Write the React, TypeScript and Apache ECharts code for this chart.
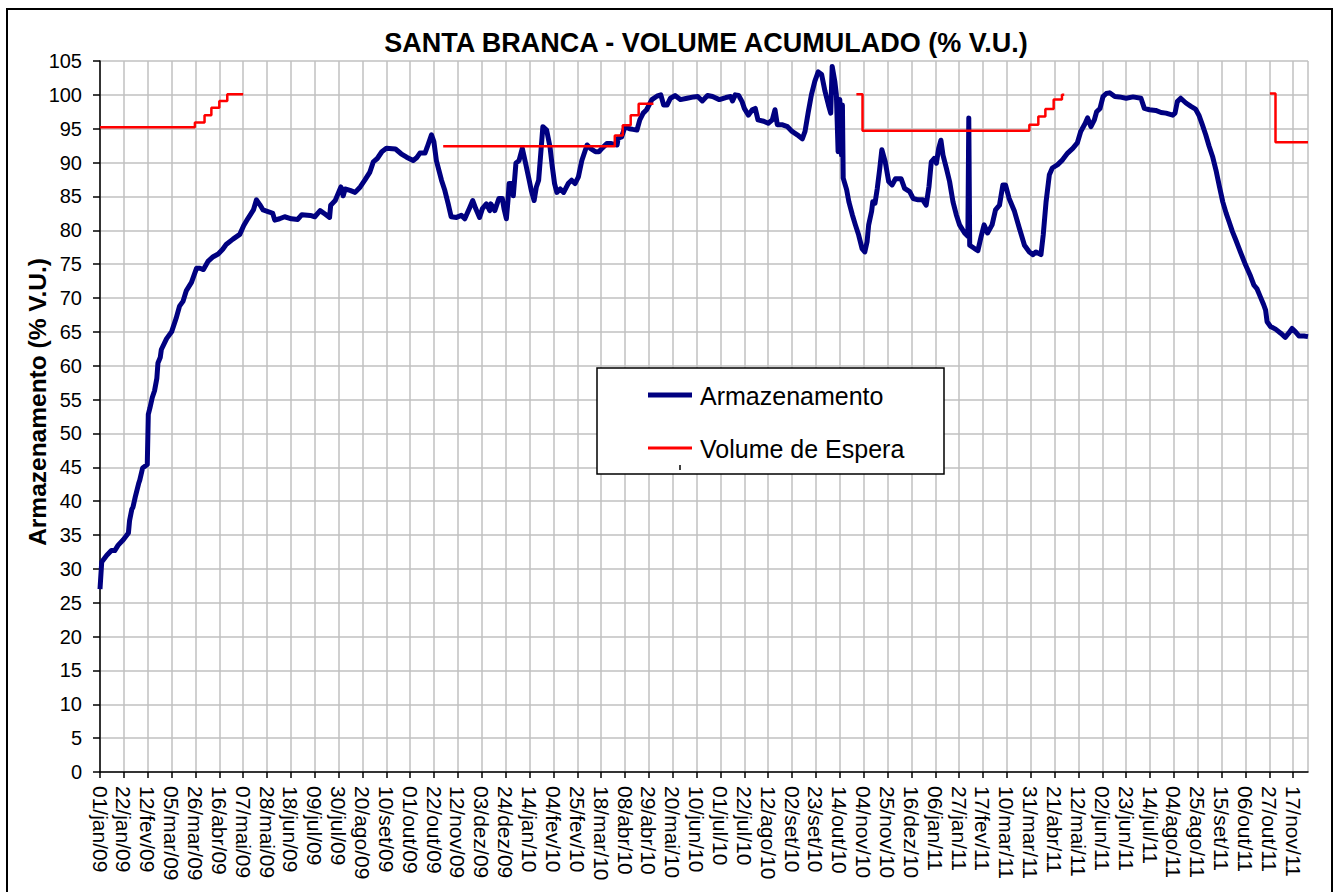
import React, { useEffect, useRef } from "react";
import * as echarts from "echarts";

// x values are days since 01/jan/09
const xTickLabels = [
  "01/jan/09", "22/jan/09", "12/fev/09", "05/mar/09", "26/mar/09", "16/abr/09", "07/mai/09", "28/mai/09",
  "18/jun/09", "09/jul/09", "30/jul/09", "20/ago/09", "10/set/09", "01/out/09", "22/out/09", "12/nov/09",
  "03/dez/09", "24/dez/09", "14/jan/10", "04/fev/10", "25/fev/10", "18/mar/10", "08/abr/10", "29/abr/10",
  "20/mai/10", "10/jun/10", "01/jul/10", "22/jul/10", "12/ago/10", "02/set/10", "23/set/10", "14/out/10",
  "04/nov/10", "25/nov/10", "16/dez/10", "06/jan/11", "27/jan/11", "17/fev/11", "10/mar/11", "31/mar/11",
  "21/abr/11", "12/mai/11", "02/jun/11", "23/jun/11", "14/jul/11", "04/ago/11", "25/ago/11", "15/set/11",
  "06/out/11", "27/out/11", "17/nov/11",
];
const yTicks = [0, 105, 5]; // min, max, step

const armDay = [
  0, 1.5, 6, 10, 13, 16, 20.5, 25, 26, 28, 29, 31, 34, 35, 37.5, 41.6, 42.5, 44, 46, 48, 50, 51, 53, 54, 58.6, 63,
  67, 70, 73, 76, 80.5, 85, 88, 91, 95, 99.6, 104, 108, 111, 117, 123, 126.5, 130, 135, 137.7, 140.6, 143.5, 149,
  152, 153.8, 158, 162.5, 168.4, 174, 177.6, 185, 189, 193.7, 198, 202, 203, 207, 210.7, 212, 214, 215.7, 220,
  224.5, 229, 233, 237.5, 240.5, 244, 248, 252, 260, 265, 269.8, 275.6, 278.6, 281.5, 286, 288, 291.7, 293.8, 296,
  300.5, 303.4, 306.4, 309, 313.7, 318, 321, 325.5, 328, 330.6, 334, 336.5, 340, 343, 344, 347.4, 351, 354, 355.5,
  357.6, 359, 360, 363, 363.7, 366, 368.7, 371.6, 374.5, 377.4, 379.5, 382, 384, 386, 387.6, 389.7, 393, 396, 398,
  400, 402, 405, 408, 412, 415, 418, 421, 424, 428.6, 431.5, 436, 439, 441.7, 446, 450, 455, 456, 459, 462, 466,
  469, 472.5, 475, 478, 481, 485.6, 490, 493.5, 496, 499, 502, 506, 510.7, 516.6, 522.5, 526, 530, 534.6, 539, 545,
  550.7, 555, 556.6, 559, 562, 565, 567, 570.6, 574, 576.6, 579, 584, 588, 591.6, 594, 596, 600, 605, 609, 613.6,
  618, 620.4, 623.3, 626, 629, 632, 635, 638, 641, 643, 644.3, 646.6, 648, 649.5, 651, 652.5, 653.3, 654, 657, 659,
  662, 664.7, 667.6, 670.6, 673, 675, 676.4, 679, 680, 682, 684, 686, 688, 691, 694, 697, 700, 705, 708, 712.5,
  715.5, 720, 724, 727, 729.5, 731.5, 734, 736, 738, 740, 741.8, 744.7, 747.6, 750.6, 753.5, 756.4, 760.8, 763.7,
  764.5, 765.3, 769.6, 772.5, 775.4, 778, 781, 785, 788, 791.5, 794.5, 796.8, 800, 804.7, 809, 813.5, 817.8, 821,
  823.6, 828, 830, 832.5, 835.4, 838, 842.7, 847, 851.5, 856, 860, 863, 867, 869, 872, 875, 877, 880, 882.6, 885.5,
  888.4, 893, 897, 903, 909, 916, 919, 923.5, 929, 933.7, 938, 944, 946, 948, 951, 955.6, 960, 964, 967, 970, 973,
  976, 979, 982, 985, 988, 991, 993.5, 996.5, 999.4, 1004, 1008, 1012.5, 1015.4, 1018, 1021, 1024, 1025.7, 1027,
  1030, 1034.4, 1039, 1043, 1046, 1049, 1052, 1055, 1059.4, 1063,
];
const armVal = [
  27.0, 31.0, 32.0, 32.7, 32.7, 33.5, 34.3, 35.3, 37.1, 38.8, 39.1, 40.6, 42.6, 43.1, 44.9, 45.4, 52.8, 53.8, 55.3,
  56.3, 58.1, 60.4, 61.2, 62.4, 64.0, 65.0, 67.0, 68.8, 69.5, 71.1, 72.3, 74.4, 74.4, 74.2, 75.4, 76.1, 76.5, 77.2,
  77.9, 78.7, 79.4, 80.7, 81.7, 83.0, 84.5, 83.8, 83.0, 82.7, 82.5, 81.5, 81.7, 82.0, 81.7, 81.6, 82.3, 82.2, 82.0,
  82.9, 82.4, 81.9, 83.7, 84.4, 85.9, 86.4, 85.1, 86.1, 85.9, 85.6, 86.4, 87.4, 88.6, 90.1, 90.6, 91.6, 92.1, 92.0,
  91.3, 90.8, 90.3, 90.7, 91.4, 91.4, 92.3, 94.1, 93.1, 90.3, 87.4, 85.9, 83.9, 82.0, 81.9, 82.2, 81.7, 83.4, 84.4,
  83.2, 81.9, 83.2, 83.9, 82.9, 83.9, 82.9, 84.7, 84.7, 83.2, 81.7, 84.4, 86.9, 86.9, 85.1, 89.9, 90.3, 92.1, 89.9,
  87.6, 85.9, 84.4, 86.4, 87.4, 90.8, 95.3, 94.8, 92.3, 89.4, 86.9, 85.6, 86.1, 85.6, 86.9, 87.4, 86.9, 87.9, 90.3,
  92.6, 92.1, 91.6, 91.6, 92.1, 92.8, 92.8, 92.6, 93.6, 93.8, 95.3, 95.0, 94.9, 94.8, 96.3, 97.3, 97.8, 99.3, 99.8,
  100.0, 98.5, 98.5, 99.5, 99.9, 99.3, 99.5, 99.7, 99.75, 99.1, 99.9, 99.75, 99.3, 99.6, 99.75, 99.1, 100.0, 99.9,
  99.0, 98.0, 97.0, 97.8, 98.0, 96.3, 96.1, 95.8, 96.3, 97.8, 95.6, 95.6, 95.3, 94.6, 94.1, 93.5, 94.6, 97.5, 100.0,
  102.0, 103.4, 103.0, 100.5, 98.5, 97.3, 104.2, 102.0, 100.0, 91.6, 99.3, 91.1, 98.5, 87.7, 86.0, 84.2, 82.3, 80.8,
  79.3, 77.3, 76.8, 78.3, 80.8, 82.8, 84.2, 84.0, 86.2, 88.9, 91.9, 90.1, 87.2, 86.7, 87.6, 87.6, 86.2, 85.7, 84.7,
  84.5, 84.5, 83.7, 86.5, 90.1, 90.6, 89.9, 92.1, 93.3, 91.1, 89.2, 87.2, 84.2, 82.3, 80.8, 79.6, 79.1, 96.6, 77.8,
  77.3, 77.0, 79.1, 80.8, 79.6, 80.8, 83.0, 83.7, 86.7, 86.7, 84.7, 82.8, 80.3, 77.8, 76.8, 76.4, 76.8, 76.4, 79.3,
  84.2, 88.2, 89.2, 89.7, 90.4, 91.4, 92.1, 92.9, 94.6, 95.8, 96.6, 95.3, 96.3, 97.5, 98.0, 99.75, 100.2, 100.3,
  99.75, 99.7, 99.5, 99.7, 99.5, 98.0, 97.8, 97.7, 97.4, 97.3, 97.0, 97.3, 99.0, 99.5, 98.8, 98.3, 97.9, 97.0, 95.6,
  94.1, 92.4, 90.9, 88.9, 86.5, 84.2, 82.5, 81.3, 79.8, 78.6, 76.6, 74.9, 73.2, 71.9, 71.4, 70.2, 69.0, 68.2, 66.5,
  65.8, 65.4, 64.8, 64.2, 64.8, 65.5, 65.0, 64.4, 64.4, 64.3,
];

// Volume de Espera: level holds from each day until the next day; null = gap
const espDay = [
  0, 83.5, 92, 98, 105, 112, 126, 126,
  302, 453, 460, 467, 474, 487, 487,
  665.6, 671, 817.8, 825.7, 831.9, 839.2, 846.5, 848.5, 848.5,
  1029.5, 1034.4, 1063,
];
const espVal: (number | null)[] = [
  95.2, 95.9, 97.0, 98.1, 99.1, 100.1, 100.1, null,
  92.4, 94.0, 95.5, 97.0, 98.7, 98.7, null,
  100.1, 94.7, 95.6, 96.8, 97.9, 99.3, 100.0, 100.0, null,
  100.2, 93.0, 93.0,
];

const seriesNames = ["Armazenamento", "Volume de Espera"];
const seriesColors = ["#000080", "#ff0000"];

const FONT = '"Liberation Sans", Arial, sans-serif';

export default function App() {
  const ref = useRef<HTMLDivElement>(null);

  useEffect(() => {
    if (!ref.current) return;
    const chart = echarts.init(ref.current, undefined, { renderer: "svg" });

    const armData = armDay.map((d, i) => [d, armVal[i]]);
    const espData: (number | null)[][] = [];
    for (let i = 0; i < espDay.length; i++) {
      const v = espVal[i];
      if (v === null) {
        espData.push([espDay[i], null]);
        continue;
      }
      const prev = i > 0 ? espVal[i - 1] : null;
      if (prev !== null && prev !== undefined) espData.push([espDay[i], prev]);
      espData.push([espDay[i], v]);
    }

    const xMax = 1063;

    chart.setOption({
      animation: false,
      backgroundColor: "#ffffff",
      grid: { left: 100, right: 31, top: 61, bottom: 120, containLabel: false },
      xAxis: {
        type: "value",
        min: 0,
        max: xMax,
        interval: 21,
        axisLine: { show: true, lineStyle: { color: "#000", width: 1.5 } },
        axisTick: { show: true, length: 6, lineStyle: { color: "#000", width: 1.5 } },
        axisLabel: {
          rotate: -90,
          margin: 14,
          fontSize: 21,
          fontFamily: FONT,
          color: "#000",
          padding: [8, 0, 0, 0],
          showMaxLabel: false,
          formatter: (v: number) => {
            const i = Math.round(v / 21);
            return Math.abs(v - i * 21) < 1e-6 && i < xTickLabels.length ? xTickLabels[i] : "";
          },
        },
        splitLine: { show: true, lineStyle: { color: "#c0c0c0", width: 1.5 } },
      },
      yAxis: {
        type: "value",
        min: yTicks[0],
        max: yTicks[1],
        interval: yTicks[2],
        axisLine: { show: true, lineStyle: { color: "#000", width: 1.5 } },
        axisTick: { show: true, length: 7, lineStyle: { color: "#000", width: 1.5 } },
        axisLabel: { fontSize: 20, fontFamily: FONT, color: "#000", margin: 18 },
        splitLine: { show: true, lineStyle: { color: "#c0c0c0", width: 1.5 } },
      },
      series: [
        {
          name: seriesNames[0],
          type: "line",
          data: armData,
          showSymbol: false,
          symbol: "none",
          lineStyle: { color: seriesColors[0], width: 5, join: "round" },
          z: 3,
        },
        {
          name: seriesNames[1],
          type: "line",
          data: espData,
          showSymbol: false,
          symbol: "none",
          connectNulls: false,
          lineStyle: { color: seriesColors[1], width: 2.5 },
          z: 4,
        },
      ],
      graphic: [
        {
          type: "rect",
          shape: { x: 7, y: 9, width: 1325, height: 900 },
          style: { fill: "none", stroke: "#000", lineWidth: 2 },
          silent: true,
          z: 100,
        },
        {
          type: "text",
          x: 706,
          y: 43,
          style: {
            text: "SANTA BRANCA - VOLUME ACUMULADO (% V.U.)",
            fontSize: 27,
            fontWeight: "bold",
            fontFamily: FONT,
            fill: "#000",
            align: "center",
            verticalAlign: "middle",
          },
          z: 100,
        },
        {
          type: "text",
          x: 37,
          y: 402,
          rotation: Math.PI / 2,
          style: {
            text: "Armazenamento (% V.U.)",
            fontSize: 24.5,
            fontWeight: "bold",
            fontFamily: FONT,
            fill: "#000",
            align: "center",
            verticalAlign: "middle",
          },
          z: 100,
        },
        {
          type: "group",
          z: 100,
          children: [
            {
              type: "rect",
              shape: { x: 597, y: 368, width: 347, height: 106 },
              style: { fill: "#fff", stroke: "#000", lineWidth: 1.5 },
              z: 100,
            },
            {
              type: "line",
              shape: { x1: 648, y1: 395, x2: 692, y2: 395 },
              style: { stroke: seriesColors[0], lineWidth: 5 },
              z: 101,
            },
            {
              type: "text",
              x: 700,
              y: 396,
              style: {
                text: seriesNames[0],
                fontSize: 25,
                fontFamily: FONT,
                fill: "#000",
                align: "left",
                verticalAlign: "middle",
              },
              z: 101,
            },
            {
              type: "line",
              shape: { x1: 648, y1: 448, x2: 692, y2: 448 },
              style: { stroke: seriesColors[1], lineWidth: 3 },
              z: 101,
            },
            {
              type: "text",
              x: 700,
              y: 449,
              style: {
                text: seriesNames[1],
                fontSize: 25,
                fontFamily: FONT,
                fill: "#000",
                align: "left",
                verticalAlign: "middle",
              },
              z: 101,
            },
            {
              type: "line",
              shape: { x1: 680, y1: 465, x2: 680, y2: 470 },
              style: { stroke: "#000", lineWidth: 1.5 },
              z: 101,
            },
          ],
        },
      ],
    });

    return () => chart.dispose();
  }, []);

  return (
    <div
      ref={ref}
      style={{ position: "absolute", left: 0, top: 0, width: 1339, height: 892, background: "#fff" }}
    />
  );
}
